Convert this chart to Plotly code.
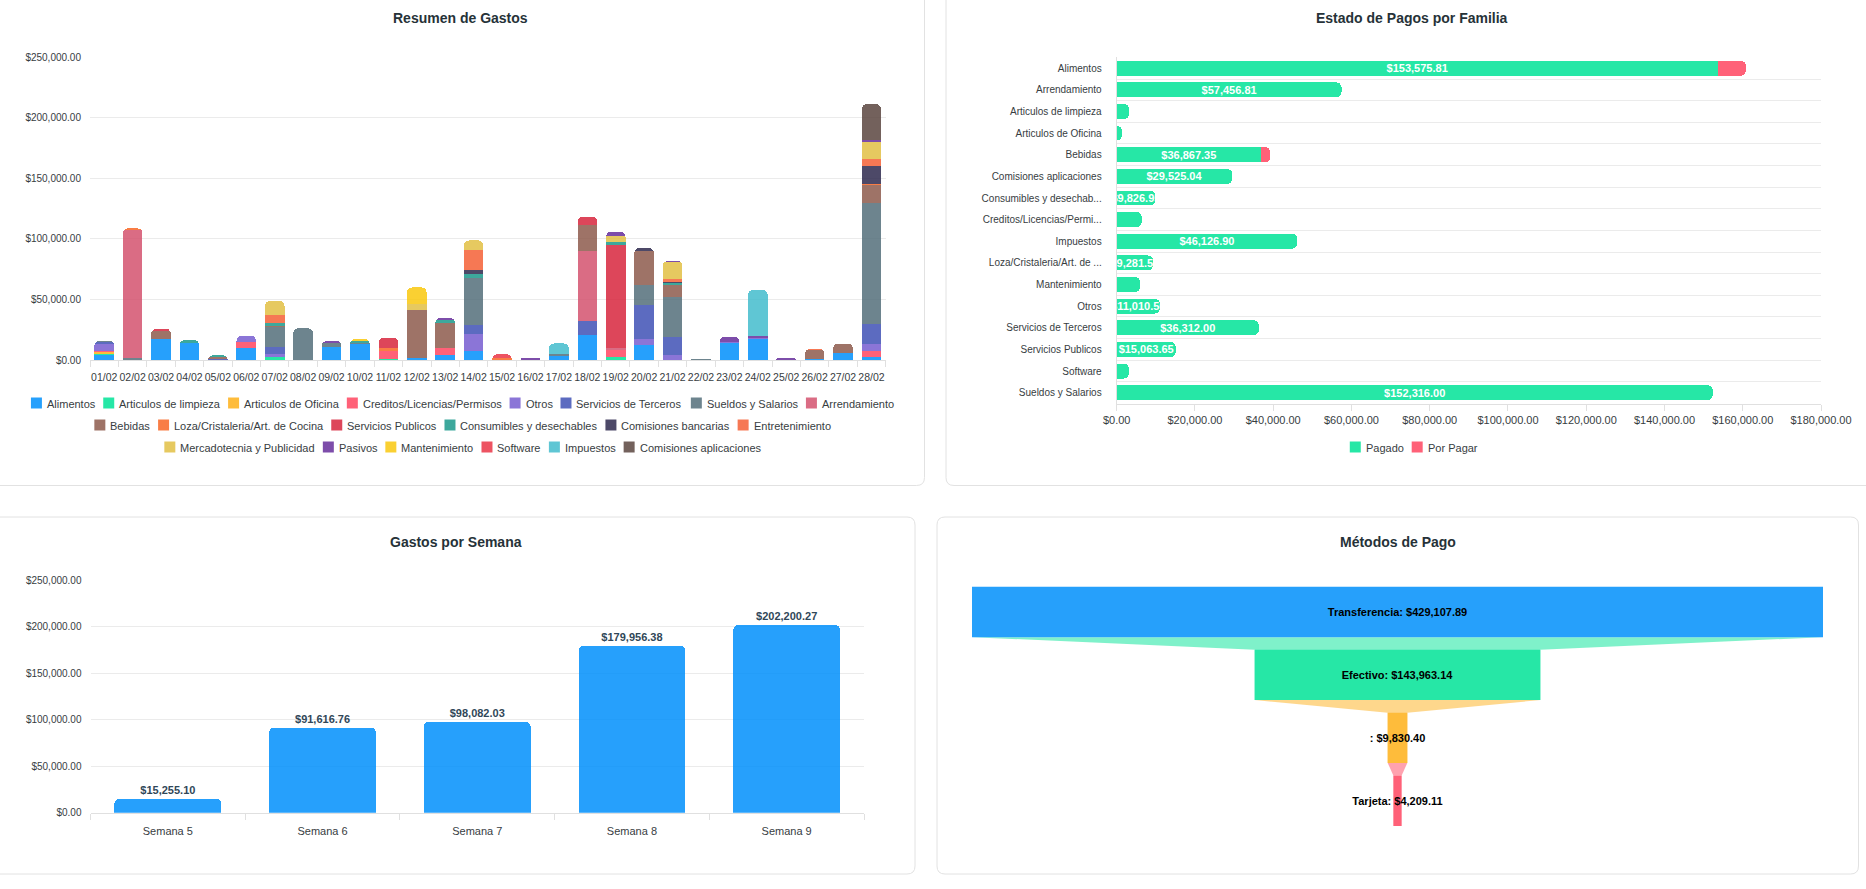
import plotly.graph_objects as go

W, H = 1866, 889
FONT = "Liberation Sans, Arial, Helvetica, sans-serif"
AXIS_TXT = "#373d3f"
GRID = "#ebebeb"
LINE = "#e0e0e0"
TITLE = "#263238"

# ------------------------------------------------------------------ data
dias = ["01/02", "02/02", "03/02", "04/02", "05/02", "06/02", "07/02", "08/02", "09/02", "10/02",
        "11/02", "12/02", "13/02", "14/02", "15/02", "16/02", "17/02", "18/02", "19/02", "20/02",
        "21/02", "22/02", "23/02", "24/02", "25/02", "26/02", "27/02", "28/02"]

alimentos = [4500, 0, 17200, 13900, 0, 9700, 0, 0, 10500, 13000, 0, 1400, 4100, 7700, 0, 0, 3300, 20400, 0, 12400, 0, 0, 14400, 17100, 0, 600, 6100, 2500]
limpieza = [800, 0, 0, 0, 0, 0, 2500, 0, 0, 0, 500, 0, 0, 0, 0, 0, 0, 0, 2800, 0, 0, 0, 0, 0, 0, 0, 0, 0]
oficina = [1200, 0, 0, 0, 0, 0, 0, 0, 0, 0, 0, 0, 0, 0, 0, 0, 0, 0, 0, 0, 0, 0, 0, 0, 0, 0, 0, 0]
creditos = [1200, 0, 0, 0, 0, 5000, 0, 0, 0, 0, 6900, 0, 5500, 0, 0, 0, 0, 0, 5500, 0, 0, 0, 0, 0, 0, 0, 0, 5000]
otros = [5800, 0, 0, 0, 0, 5300, 2500, 0, 0, 0, 0, 0, 0, 13500, 0, 0, 0, 0, 0, 5000, 4100, 0, 800, 800, 400, 0, 0, 5800]
terceros = [1000, 0, 0, 0, 900, 0, 6100, 0, 0, 0, 0, 0, 0, 7700, 0, 400, 0, 12100, 0, 27900, 14600, 300, 0, 0, 0, 0, 0, 16800]
sueldos = [1500, 1500, 0, 0, 0, 0, 16100, 26200, 3300, 800, 0, 0, 0, 38600, 0, 0, 1600, 0, 0, 16600, 33700, 500, 0, 0, 0, 0, 0, 99400]
arrendamiento = [0, 105500, 0, 0, 0, 0, 0, 0, 0, 0, 0, 0, 0, 0, 0, 0, 0, 57700, 1400, 0, 0, 0, 0, 0, 0, 0, 0, 0]
bebidas = [0, 0, 6400, 0, 1200, 0, 600, 0, 0, 0, 0, 40000, 20700, 0, 0, 0, 0, 21000, 0, 28400, 9700, 0, 0, 0, 0, 7700, 7500, 14900]
loza = [0, 1800, 0, 0, 0, 0, 0, 0, 0, 0, 2800, 0, 0, 0, 1400, 0, 0, 0, 0, 0, 0, 0, 0, 0, 0, 0, 0, 1100]
serv_publicos = [0, 0, 2200, 0, 0, 0, 0, 0, 0, 0, 8300, 0, 0, 0, 0, 0, 0, 7200, 85300, 0, 0, 0, 0, 0, 0, 0, 0, 0]
consumibles = [0, 0, 0, 2500, 1800, 0, 2800, 0, 0, 2200, 0, 0, 2800, 3300, 0, 0, 0, 0, 2800, 0, 1500, 0, 0, 0, 0, 0, 0, 0]
com_bancarias = [0, 0, 0, 0, 0, 0, 0, 0, 0, 0, 0, 0, 0, 3900, 0, 0, 0, 0, 0, 2200, 600, 0, 0, 0, 0, 0, 0, 14600]
entretenimiento = [0, 0, 0, 0, 0, 0, 6400, 0, 0, 0, 0, 0, 0, 16300, 0, 0, 0, 0, 0, 0, 3000, 0, 0, 0, 0, 800, 0, 6100]
mercadotecnia = [0, 0, 0, 0, 0, 0, 11700, 0, 0, 0, 0, 4700, 0, 7700, 0, 0, 0, 0, 5000, 0, 13500, 0, 0, 0, 0, 0, 0, 13800]
pasivos = [0, 0, 0, 0, 0, 0, 0, 0, 1900, 0, 0, 0, 1700, 0, 0, 1200, 0, 0, 3000, 0, 1100, 0, 4100, 1900, 1000, 0, 0, 1700]
mantenimiento = [0, 0, 0, 0, 0, 0, 0, 0, 0, 1400, 0, 13800, 0, 0, 0, 0, 0, 0, 0, 0, 0, 0, 0, 0, 0, 0, 0, 0]
software = [0, 0, 0, 0, 0, 0, 0, 0, 0, 0, 0, 0, 0, 0, 3300, 0, 0, 0, 0, 0, 0, 0, 0, 0, 0, 0, 0, 0]
impuestos = [0, 0, 0, 0, 0, 0, 0, 0, 0, 0, 0, 0, 0, 0, 0, 0, 8800, 0, 0, 0, 0, 0, 0, 38100, 0, 0, 0, 0]
com_aplicaciones = [0, 0, 0, 0, 0, 0, 0, 0, 0, 0, 0, 0, 0, 0, 0, 0, 0, 0, 0, 0, 0, 0, 0, 0, 0, 0, 0, 29500]

series_names = ["Alimentos", "Articulos de limpieza", "Articulos de Oficina", "Creditos/Licencias/Permisos",
                "Otros", "Servicios de Terceros", "Sueldos y Salarios", "Arrendamiento",
                "Bebidas", "Loza/Cristaleria/Art. de Cocina", "Servicios Publicos", "Consumibles y desechables",
                "Comisiones bancarias", "Entretenimiento",
                "Mercadotecnia y Publicidad", "Pasivos", "Mantenimiento", "Software", "Impuestos",
                "Comisiones aplicaciones"]
series_values = [alimentos, limpieza, oficina, creditos, otros, terceros, sueldos, arrendamiento,
                 bebidas, loza, serv_publicos, consumibles, com_bancarias, entretenimiento,
                 mercadotecnia, pasivos, mantenimiento, software, impuestos, com_aplicaciones]
series_colors = ["#008FFB", "#00E396", "#FEB019", "#FF4560", "#775DD0", "#3F51B5", "#546E7A", "#D4526E",
                 "#8D5B4C", "#F86624", "#D7263D", "#1B998B", "#2E294E", "#F46036",
                 "#E2C044", "#662E9B", "#F9C80E", "#EA3546", "#43BCCD", "#5A4540"]
legend_rows = [8, 6, 6]

familias = ["Alimentos", "Arrendamiento", "Articulos de limpieza", "Articulos de Oficina", "Bebidas",
            "Comisiones aplicaciones", "Consumibles y desechables", "Creditos/Licencias/Permisos",
            "Impuestos", "Loza/Cristaleria/Art. de Cocina", "Mantenimiento", "Otros",
            "Servicios de Terceros", "Servicios Publicos", "Software", "Sueldos y Salarios"]
familias_etiquetas = ["Alimentos", "Arrendamiento", "Articulos de limpieza", "Articulos de Oficina", "Bebidas",
                      "Comisiones aplicaciones", "Consumibles y desechab...", "Creditos/Licencias/Permi...",
                      "Impuestos", "Loza/Cristaleria/Art. de ...", "Mantenimiento", "Otros",
                      "Servicios de Terceros", "Servicios Publicos", "Software", "Sueldos y Salarios"]
pagado = [153575.81, 57456.81, 3200, 1300, 36867.35, 29525.04, 9826.95, 6400,
          46126.90, 9281.50, 6000, 11010.50, 36312.00, 15063.65, 3100, 152316.00]
por_pagar = [7200, 0, 0, 0, 2400, 0, 0, 0, 0, 0, 0, 0, 0, 0, 0, 0]
estado_nombres = ["Pagado", "Por Pagar"]
estado_colores = ["#00E396", "#FF4560"]

semanas = ["Semana 5", "Semana 6", "Semana 7", "Semana 8", "Semana 9"]
gastos_semana = [15255.10, 91616.76, 98082.03, 179956.38, 202200.27]

metodos = ["Transferencia", "Efectivo", "", "Tarjeta"]
montos_metodo = [429107.89, 143963.14, 9830.40, 4209.11]
colores_metodo = ["#26A0FB", "#26E7A6", "#FEBC3B", "#FF6178"]
conectores_metodo = ["rgba(0,227,150,0.5)", "rgba(254,176,25,0.5)", "rgba(255,69,96,0.5)"]

# ------------------------------------------------------------------ helpers
ARIAL = {' ': 278, '!': 278, '$': 556, '(': 333, ')': 333, ',': 278, '-': 333, '.': 278, '/': 278, ':': 278,
         'A': 667, 'B': 667, 'C': 722, 'D': 722, 'E': 667, 'F': 611, 'G': 778, 'H': 722, 'I': 278, 'J': 500,
         'K': 667, 'L': 556, 'M': 833, 'N': 722, 'O': 778, 'P': 667, 'Q': 778, 'R': 722, 'S': 667, 'T': 611,
         'U': 722, 'V': 667, 'W': 944, 'X': 667, 'Y': 667, 'Z': 611,
         'a': 556, 'b': 556, 'c': 500, 'd': 556, 'e': 556, 'f': 278, 'g': 556, 'h': 556, 'i': 222, 'j': 222,
         'k': 500, 'l': 222, 'm': 833, 'n': 556, 'o': 556, 'p': 556, 'q': 556, 'r': 333, 's': 500, 't': 278,
         'u': 556, 'v': 500, 'w': 722, 'x': 500, 'y': 500, 'z': 500}


def text_w(s, size):
    return sum(ARIAL.get(c, 556) for c in s) / 1000.0 * size


def X(px):
    return px / W


def Y(py):
    return 1 - py / H


def rgba(hx, a):
    hx = hx.lstrip('#')
    r, g, b = int(hx[0:2], 16), int(hx[2:4], 16), int(hx[4:6], 16)
    return f"rgba({r},{g},{b},{a})"


def money(v):
    return f"${v:,.2f}"


def panel(xa, ya, xb, yb, r=8):
    p = (f"M {X(xa + r)},{Y(ya)} L {X(xb - r)},{Y(ya)} Q {X(xb)},{Y(ya)} {X(xb)},{Y(ya + r)} "
         f"L {X(xb)},{Y(yb - r)} Q {X(xb)},{Y(yb)} {X(xb - r)},{Y(yb)} "
         f"L {X(xa + r)},{Y(yb)} Q {X(xa)},{Y(yb)} {X(xa)},{Y(yb - r)} "
         f"L {X(xa)},{Y(ya + r)} Q {X(xa)},{Y(ya)} {X(xa + r)},{Y(ya)} Z")
    return dict(type="path", path=p, xref="paper", yref="paper", layer="below",
                line=dict(color="#e2e2e2", width=1), fillcolor="white")


shapes = [panel(-10, -10, 924.5, 485.5), panel(946, -10, 1880, 485.5),
          panel(-10, 517, 915, 874), panel(937, 517, 1858.5, 874)]
annotations = []


def legend_row(names, colors, cx, cy, size=11, mk=11, gap=4, spacing=9):
    widths = [text_w(n, size) for n in names]
    total = sum(mk + gap + w for w in widths) + spacing * (len(names) - 1)
    x = cx - total / 2
    for n, c, w in zip(names, colors, widths):
        shapes.append(dict(type="rect", xref="paper", yref="paper", layer="above",
                           x0=X(x), x1=X(x + mk), y0=Y(cy + mk / 2), y1=Y(cy - mk / 2),
                           fillcolor=rgba(c, 0.85), line=dict(width=0)))
        annotations.append(dict(text=n, x=X(x + mk + gap), y=Y(cy + 0.5), xref="paper", yref="paper",
                                xanchor="left", yanchor="middle", showarrow=False, borderpad=0,
                                font=dict(size=size, color=AXIS_TXT, family=FONT)))
        x += mk + gap + w + spacing


fig = go.Figure()

# ------------------------------------------------------------------ chart 1: Resumen de Gastos
for name, vals, col in zip(series_names, series_values, series_colors):
    fig.add_trace(go.Bar(
        x=dias, y=vals, name=name, xaxis="x", yaxis="y", showlegend=False,
        marker=dict(color=rgba(col, 0.85), line=dict(width=0)), hoverinfo="skip"))

start = 0
for r, n in enumerate(legend_rows):
    legend_row(series_names[start:start + n], series_colors[start:start + n], 462, [403, 425, 447][r])
    start += n

# ------------------------------------------------------------------ chart 2: Estado de Pagos por Familia
fig.add_trace(go.Bar(
    y=familias, x=pagado, orientation="h", name=estado_nombres[0], xaxis="x2", yaxis="y2", showlegend=False,
    marker=dict(color=rgba(estado_colores[0], 0.85), line=dict(width=0)),
    text=[money(v) if v >= 9000 else "" for v in pagado], textposition="inside",
    insidetextanchor="middle", textfont=dict(color="white", size=11, family=FONT, weight="bold"),
    hoverinfo="skip"))
fig.add_trace(go.Bar(
    y=familias, x=por_pagar, orientation="h", name=estado_nombres[1], xaxis="x2", yaxis="y2", showlegend=False,
    marker=dict(color=rgba(estado_colores[1], 0.85), line=dict(width=0)), hoverinfo="skip"))
legend_row(estado_nombres, estado_colores, 1413, 447)

# ------------------------------------------------------------------ chart 3: Gastos por Semana
fig.add_trace(go.Bar(
    x=semanas, y=gastos_semana, xaxis="x3", yaxis="y3", showlegend=False,
    marker=dict(color=rgba("#008FFB", 0.85), line=dict(width=0)),
    text=[money(v) for v in gastos_semana], textposition="outside", cliponaxis=False,
    textfont=dict(color="#304758", size=11, family=FONT, weight="bold"), hoverinfo="skip"))

# ------------------------------------------------------------------ chart 4: Métodos de Pago (funnel)
idx = list(range(len(metodos)))
labels = [f"{m}: {money(v)}" for m, v in zip(metodos, montos_metodo)]
for k in range(len(metodos) - 1):
    last = (k == len(metodos) - 2)
    txt = [labels[k], labels[k + 1] if last else ""]
    fig.add_trace(go.Funnel(
        y=idx[k:k + 2], x=montos_metodo[k:k + 2], xaxis="x4", yaxis="y4", showlegend=False,
        marker=dict(color=colores_metodo[k:k + 2], line=dict(width=0)),
        connector=dict(fillcolor=conectores_metodo[k], line=dict(width=0)),
        text=txt, textinfo="text", textposition="inside", insidetextanchor="middle",
        textfont=dict(color="#000000", size=11, family=FONT, weight="bold"),
        hoverinfo="skip"))

mmax = max(montos_metodo)

axis_font10 = dict(size=10, color=AXIS_TXT, family=FONT)
axis_font11 = dict(size=11, color=AXIS_TXT, family=FONT)

titles = [("Resumen de Gastos", 460, 18), ("Estado de Pagos por Familia", 1412, 18),
          ("Gastos por Semana", 455.6, 541.7), ("Métodos de Pago", 1398, 541.7)]
for t, tx, ty in titles:
    annotations.append(dict(text=t, x=X(tx), y=Y(ty), xref="paper", yref="paper", showarrow=False,
                            xanchor="center", yanchor="middle",
                            font=dict(size=14, color=TITLE, family=FONT, weight="bold")))

fig.update_layout(
    width=W, height=H, autosize=False, template="none", showlegend=False,
    margin=dict(l=0, r=0, t=0, b=0, pad=0),
    paper_bgcolor="white", plot_bgcolor="rgba(0,0,0,0)",
    font=dict(family=FONT, color=AXIS_TXT),
    barmode="stack", bargap=0.31, barcornerradius=5,
    funnelmode="overlay", funnelgap=0.2,
    uniformtext=dict(minsize=11, mode="show"),
    hovermode=False,
    # chart 1
    xaxis=dict(domain=[X(90), X(885.7)], anchor="y", type="category", tickangle=0,
               tickfont=dict(size=10.5, color=AXIS_TXT, family=FONT),
               showline=True, linecolor=LINE, ticks="outside", ticklen=6, tickcolor=LINE,
               tickson="boundaries", showgrid=False, zeroline=False, fixedrange=True, automargin=False,
               ticklabelstandoff=7),
    yaxis=dict(domain=[Y(360), Y(57.3)], anchor="x", range=[0, 250000], dtick=50000, tickformat="$,.2f",
               tickfont=axis_font10, showgrid=True, gridcolor=GRID, zeroline=False, showline=False,
               ticks="", ticklabelstandoff=8, fixedrange=True, automargin=False),
    # chart 2
    xaxis2=dict(domain=[X(1116.7), X(1821)], anchor="y2", range=[0, 180000], dtick=20000, tickformat="$,.2f",
                tickfont=axis_font11, showgrid=False, zeroline=False, showline=True, linecolor=LINE,
                ticks="outside", ticklen=6, tickcolor=LINE, fixedrange=True, automargin=False),
    yaxis2=dict(domain=[Y(403.5), Y(57.4)], anchor="x2", type="category", categoryorder="array",
                categoryarray=familias, autorange="reversed", tickvals=familias, ticktext=familias_etiquetas,
                tickfont=axis_font10, tickson="boundaries", showgrid=True, gridcolor=GRID, ticks="",
                showline=True, linecolor=LINE, zeroline=False, ticklabelstandoff=12, fixedrange=True,
                automargin=False),
    # chart 3
    xaxis3=dict(domain=[X(90.5), X(864)], anchor="y3", type="category", tickfont=axis_font11, tickangle=0,
                showline=True, linecolor=LINE, ticks="outside", ticklen=6, tickcolor=LINE,
                tickson="boundaries", showgrid=False, zeroline=False, fixedrange=True, automargin=False,
                ticklabelstandoff=8),
    yaxis3=dict(domain=[Y(812.7), Y(580.5)], anchor="x3", range=[0, 250000], dtick=50000, tickformat="$,.2f",
                tickfont=axis_font10, showgrid=True, gridcolor=GRID, zeroline=False, showline=False,
                ticks="", ticklabelstandoff=8, fixedrange=True, automargin=False),
    # chart 4
    xaxis4=dict(domain=[X(972), X(1823)], anchor="y4", range=[-mmax / 2, mmax / 2], visible=False,
                fixedrange=True),
    yaxis4=dict(domain=[Y(832.2), Y(580.5)], anchor="x4", range=[len(metodos) - 0.5, -0.5], visible=False,
                fixedrange=True),
    shapes=shapes,
    annotations=annotations,
)

fig.write_html("out.html", config=dict(displayModeBar=False),
               post_script="document.body.style.margin='0';document.body.style.overflow='hidden';")
